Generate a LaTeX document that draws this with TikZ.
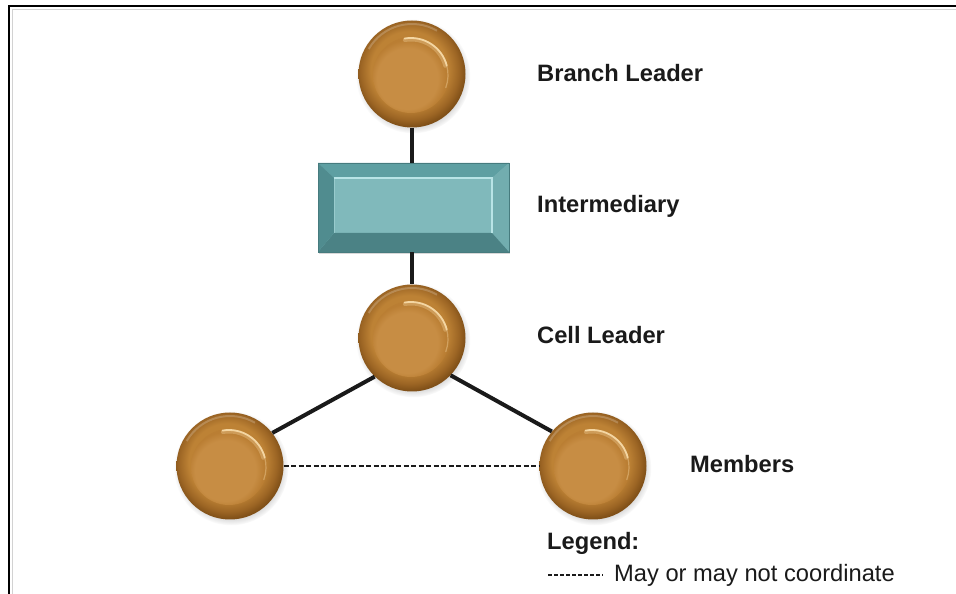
\documentclass[tikz,border=0pt]{standalone}
\usepackage{fontspec}
\setmainfont{Liberation Sans}
\usetikzlibrary{shadows,fadings}
\definecolor{bzEdge}{HTML}{805018}
\definecolor{bzDark}{HTML}{9C6524}
\definecolor{bzRing}{HTML}{BD8235}
\definecolor{bzInA}{HTML}{C78D44}
\definecolor{bzInB}{HTML}{BA7E33}
\definecolor{bzHi}{HTML}{F4D6A2}
\definecolor{tlFace}{HTML}{80B9BB}
\definecolor{tlTop}{HTML}{5E9FA2}
\definecolor{tlLeft}{HTML}{508C8F}
\definecolor{tlBot}{HTML}{4B8285}
\definecolor{tlRight}{HTML}{72ADAF}
\definecolor{tlHi}{HTML}{B8E4E6}
\definecolor{tlLine}{HTML}{467B7E}
\definecolor{ink}{HTML}{1A1A1A}
\pgfdeclareradialshading{bronze}{\pgfpoint{-2bp}{3bp}}{color(0bp)=(bzRing); color(18bp)=(bzRing); color(23bp)=(bzDark); color(26bp)=(bzEdge); color(50bp)=(bzEdge)}
\pgfdeclareradialshading{bronzein}{\pgfpoint{-4bp}{-4bp}}{color(0bp)=(bzInA); color(20bp)=(bzInA); color(25bp)=(bzInB); color(50bp)=(bzInB)}
\tikzset{
  ball/.style={circle, minimum size=107pt, inner sep=0pt, shading=bronze,
    circular drop shadow={shadow xshift=1pt, shadow yshift=-2pt, shadow scale=1.07, opacity=0.35},
    path picture={
      \coordinate (pc) at ([shift={(-1pt,-1pt)}]path picture bounding box.center);
      \shade[shading=bronzein] (pc) circle (38pt);
      \draw[bzHi, opacity=0.35, line width=4pt, line cap=round] ([shift={(15:35.5pt)}]pc) arc[start angle=15, end angle=100, radius=35.5pt];
      \draw[bzHi, line width=1.8pt, line cap=round] ([shift={(15:37pt)}]pc) arc[start angle=15, end angle=100, radius=37pt];
      \draw[bzHi, opacity=0.4, line width=1.2pt, line cap=round] ([shift={(-20:37pt)}]pc) arc[start angle=-20, end angle=15, radius=37pt];
      \draw[white, opacity=0.2, line width=2pt] ([shift={(60:50pt)}]path picture bounding box.center) arc[start angle=60, end angle=150, radius=50pt];
    }},
  bevelbox/.style={rectangle, minimum width=191pt, minimum height=89pt, inner sep=0pt,
    fill=tlFace, draw=tlLine, line width=0.6pt,
    drop shadow={shadow xshift=1pt, shadow yshift=-2pt, opacity=0.3},
    path picture={
      \coordinate (o1) at (path picture bounding box.north west);
      \coordinate (o2) at (path picture bounding box.north east);
      \coordinate (o3) at (path picture bounding box.south east);
      \coordinate (o4) at (path picture bounding box.south west);
      \coordinate (i1) at ([shift={(16pt,-15pt)}]o1);
      \coordinate (i2) at ([shift={(-17pt,-15pt)}]o2);
      \coordinate (i3) at ([shift={(-17pt,19pt)}]o3);
      \coordinate (i4) at ([shift={(16pt,19pt)}]o4);
      \fill[tlTop] (o1) -- (o2) -- (i2) -- (i1) -- cycle;
      \fill[tlRight] (o2) -- (o3) -- (i3) -- (i2) -- cycle;
      \fill[tlBot] (o3) -- (o4) -- (i4) -- (i3) -- cycle;
      \fill[tlLeft] (o4) -- (o1) -- (i1) -- (i4) -- cycle;
      \draw[tlHi, line width=1.6pt] (i1) -- (i2) -- (i3);
      \draw[tlHi, opacity=0.5, line width=1pt] (i1) -- (i4);
    }},
  conn/.style={ink, line width=4pt},
  coord/.style={ink, line width=2.6pt, dash pattern=on 5pt off 2.5pt},
  lab/.style={anchor=base west, inner sep=0pt, text=ink, font=\fontsize{23.7}{28}\selectfont\bfseries},
  legtext/.style={anchor=base west, inner sep=0pt, text=ink, font=\fontsize{23.7}{28}\selectfont}
}
\begin{document}
\begin{tikzpicture}[x=1pt, y=1pt]
\useasboundingbox (0,0) rectangle (956,594);
\fill[white] (0,0) rectangle (956,594);
% frame
\draw[gray!35, line width=1pt] (12.5,0) -- (12.5,584.5) -- (956,584.5);
\draw[black, line width=2.8pt] (9,0) -- (9,588) -- (956,588);
% nodes
\node[ball] (bl) at (412,520) {};
\node[bevelbox] (im) at (413.5,386.5) {};
\node[ball] (cl) at (412,256) {};
\node[ball] (m1) at (230,128) {};
\node[ball] (m2) at (593,128) {};
% connectors
\draw[conn] (bl.south) -- (im.north -| bl.south);
\draw[conn] (im.south -| cl.north) -- (cl.north);
\draw[conn] (cl.226) -- (m1.38);
\draw[conn] (cl.316) -- (m2.140);
\draw[coord] (m1.east) -- (m2.west);
% labels
\node[lab] (tbl) at (537,512) {Branch Leader};
\node[lab] (tim) at (537,381) {Intermediary};
\node[lab] (tcl) at (537,250) {Cell Leader};
\node[lab] (tmb) at (690,121) {Members};
\node[lab] (tlg) at (547,44) {Legend:};
\coordinate (la) at (548,19);
\coordinate (lb) at (603,19);
\draw[ink, line width=1.4pt, dash pattern=on 4pt off 2pt] (la) -- (lb);
\node[legtext] (tlt) at (614,12) {May or may not coordinate};
\end{tikzpicture}
\end{document}
